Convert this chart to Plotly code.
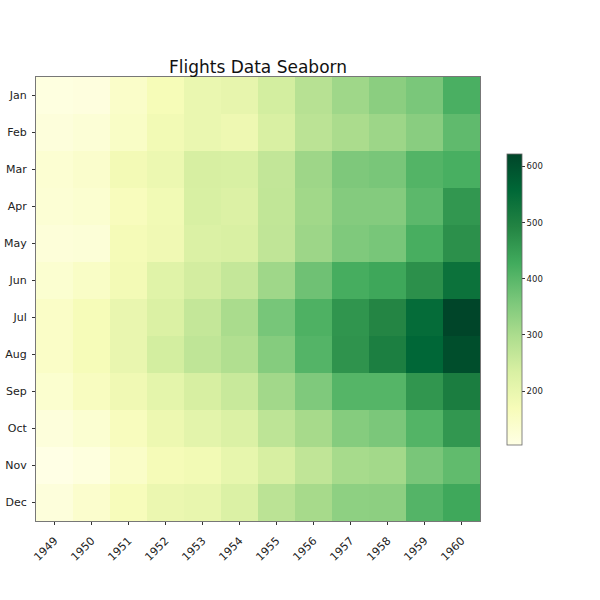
import plotly.graph_objects as go

years = ["1949", "1950", "1951", "1952", "1953", "1954", "1955", "1956", "1957", "1958", "1959", "1960"]
months = ["Jan", "Feb", "Mar", "Apr", "May", "Jun", "Jul", "Aug", "Sep", "Oct", "Nov", "Dec"]

jan = [112, 115, 145, 171, 196, 204, 242, 284, 315, 340, 360, 417]
feb = [118, 126, 150, 180, 196, 188, 233, 277, 301, 318, 342, 391]
mar = [132, 141, 178, 193, 236, 235, 267, 317, 356, 362, 406, 419]
apr = [129, 135, 163, 181, 235, 227, 269, 313, 348, 348, 396, 461]
may = [121, 125, 172, 183, 229, 234, 270, 318, 355, 363, 420, 472]
jun = [135, 149, 178, 218, 243, 264, 315, 374, 422, 435, 472, 535]
jul = [148, 170, 199, 230, 264, 302, 364, 413, 465, 491, 548, 622]
aug = [148, 170, 199, 242, 272, 293, 347, 405, 467, 505, 559, 606]
sep = [136, 158, 184, 209, 237, 259, 312, 355, 404, 404, 463, 508]
oct_ = [119, 133, 162, 191, 211, 229, 274, 306, 347, 359, 407, 461]
nov = [104, 114, 146, 172, 180, 203, 237, 271, 305, 310, 362, 390]
dec = [118, 140, 166, 194, 201, 229, 278, 306, 336, 337, 405, 432]

z = [jan, feb, mar, apr, may, jun, jul, aug, sep, oct_, nov, dec]

ylgn = ["#ffffe5", "#f7fcb9", "#d9f0a3", "#addd8e", "#78c679",
        "#41ab5d", "#238443", "#006837", "#004529"]
colorscale = [[i / (len(ylgn) - 1), c] for i, c in enumerate(ylgn)]

L, R, T, B = 36, 480, 77, 521
W, H = 600, 600
pw, ph = R - L, B - T

fig = go.Figure(go.Heatmap(
    z=z, x=years, y=months,
    colorscale=colorscale,
    zmin=104, zmax=622,
    colorbar=dict(
        thickness=15, thicknessmode="pixels",
        len=291, lenmode="pixels",
        xpad=0, ypad=0,
        x=(507 - L) / pw, xanchor="left",
        y=(B - 299.5) / ph, yanchor="middle",
        tickvals=[200, 300, 400, 500, 600],
        ticks="outside", ticklen=3, tickcolor="#333",
        tickfont=dict(family="DejaVu Sans", size=8.5, color="#222"),
        outlinewidth=0.8, outlinecolor="#666",
    ),
    showscale=True,
))

fig.update_layout(
    width=W, height=H,
    margin=dict(l=L, r=W - R, t=T, b=H - B),
    paper_bgcolor="white", plot_bgcolor="white",
    title=dict(text="Flights Data Seaborn", x=(L + R) / 2 / W, xanchor="center",
               y=1 - 67 / H, yanchor="middle",
               font=dict(family="DejaVu Sans", size=17, color="#111")),
    xaxis=dict(tickangle=-45, ticks="outside", ticklen=3, tickcolor="#333",
               ticklabelstandoff=5, automargin=False,
               tickfont=dict(family="DejaVu Sans", size=11, color="#222"),
               showline=True, linecolor="#777", linewidth=1, mirror=True,
               showgrid=False, zeroline=False),
    yaxis=dict(autorange="reversed", ticks="outside", ticklen=3, tickcolor="#333",
               ticklabelstandoff=3, automargin=False,
               tickfont=dict(family="DejaVu Sans", size=11, color="#222"),
               showline=True, linecolor="#777", linewidth=1, mirror=True,
               showgrid=False, zeroline=False),
)

fig.write_html("out.html")
